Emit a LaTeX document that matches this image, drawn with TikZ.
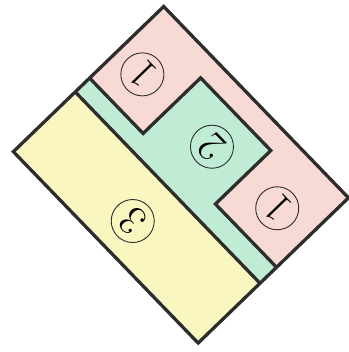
\documentclass[tikz,border=0pt]{standalone}
\usepackage{tikz}
\usetikzlibrary{calc}
\definecolor{plotpink}{RGB}{248,218,212}
\definecolor{plotgreen}{RGB}{192,236,214}
\definecolor{plotyellow}{RGB}{250,246,192}
\definecolor{plotline}{RGB}{45,45,45}
\newcommand{\plotnum}[1]{\scalebox{1.7}{#1}}
\tikzset{
  x=1pt,y=1pt,
  border/.style={draw=plotline,line width=3.3pt,line join=miter},
  plotlbl/.style={circle,draw=plotline,line width=0.9pt,minimum size=43pt,
    inner sep=0pt,rotate=134,font=\Huge},
}

\begin{document}
\begin{tikzpicture}
  \useasboundingbox (0,0) rectangle (348,-352);
  \begin{scope}[shift={(163.7,-6.5)},rotate=-46]
    % plots
    \fill[plotpink] (0,0) rectangle (266,-209);
    \fill[plotgreen] (0,-103) -- (77,-103) -- (77,-23) -- (178,-23)
      -- (178,-100) -- (266,-100) -- (266,-123) -- (0,-123) -- cycle;
    \fill[plotyellow] (0,-123) rectangle (266,-209);
    % outlines
    \draw[border] (0,-103) -- (77,-103) -- (77,-23) -- (178,-23)
      -- (178,-100) -- (266,-100);
    \draw[border] (0,-123) -- (266,-123);
    \draw[border] (0,0) rectangle (266,-209);
    % labels
    \node[plotlbl] (oneA) at (34,-62.5) {\plotnum{1}};
    \node[plotlbl] (two) at (134.4,-62.7) {\plotnum{2}};
    \node[plotlbl] (oneB) at (224,-58.5) {\plotnum{1}};
    \node[plotlbl] (three) at (132.8,-171.3) {\plotnum{3}};
  \end{scope}
\end{tikzpicture}
\end{document}
